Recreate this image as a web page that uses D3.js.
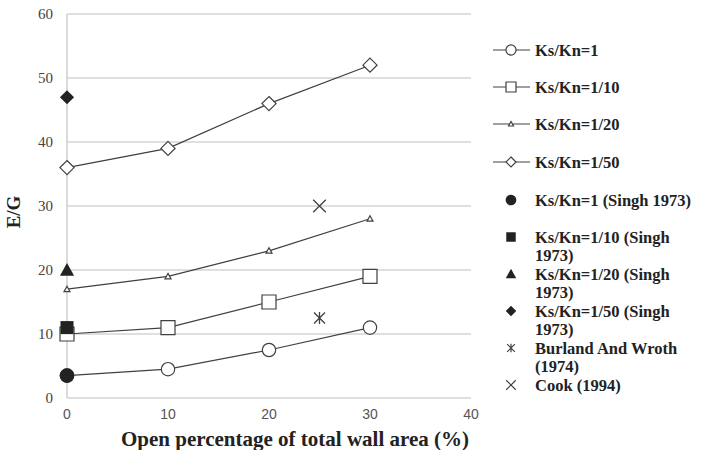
<!DOCTYPE html>
<html>
<head>
<meta charset="utf-8">
<script src="https://cdn.jsdelivr.net/npm/d3@7"></script>
<style>
  body { margin: 0; background: #fff; }
  svg { display: block; }
</style>
</head>
<body>
<svg></svg>
<script>
// open percentage of wall area
const openPct = [0, 10, 20, 30];
const ks1 = [3.5, 4.5, 7.5, 11];
const ks10 = [10, 11, 15, 19];
const ks20 = [17, 19, 23, 28];
const ks50 = [36, 39, 46, 52];

// single points from literature
const singh = [
    {x: 0, y: 3.5, shape: 'circle'},
    {x: 0, y: 11, shape: 'square'},
    {x: 0, y: 20, shape: 'triangle'},
    {x: 0, y: 47, shape: 'diamond'}
];
const burland = [{x: 25, y: 12.5}];
const cook = [{x: 25, y: 30}];

const xTicks = [0, 10, 20, 30, 40];
const yTicks = [0, 10, 20, 30, 40, 50, 60];

const legendLabels = [
    ['Ks/Kn=1'],
    ['Ks/Kn=1/10'],
    ['Ks/Kn=1/20'],
    ['Ks/Kn=1/50'],
    ['Ks/Kn=1 (Singh 1973)'],
    ['Ks/Kn=1/10 (Singh', '1973)'],
    ['Ks/Kn=1/20 (Singh', '1973)'],
    ['Ks/Kn=1/50 (Singh', '1973)'],
    ['Burland And Wroth', '(1974)'],
    ['Cook (1994)']
];

var width = 702, height = 450;
var margin = {top: 14, left: 67, right: 231, bottom: 52};

const xScale = d3.scaleLinear()
    .domain([0, 40])
    .range([margin.left, width - margin.right]);

const yScale = d3.scaleLinear()
    .domain([0, 60])
    .range([height - margin.bottom, margin.top]);

const ink = '#404040';

// custom symbols
const asterisk = {
    draw(ctx, size) {
        const r = Math.sqrt(size) / 2;
        ctx.moveTo(-r, -r); ctx.lineTo(r, r);
        ctx.moveTo(-r, r); ctx.lineTo(r, -r);
        ctx.moveTo(0, -r * 1.1); ctx.lineTo(0, r * 1.1);
    }
};
const cross = {
    draw(ctx, size) {
        const r = Math.sqrt(size) / 2;
        ctx.moveTo(-r, -r); ctx.lineTo(r, r);
        ctx.moveTo(-r, r); ctx.lineTo(r, -r);
    }
};
const diamond = {
    draw(ctx, size) {
        const r = Math.sqrt(size) / 2;
        ctx.moveTo(0, -r); ctx.lineTo(r, 0); ctx.lineTo(0, r); ctx.lineTo(-r, 0); ctx.closePath();
    }
};
const square = {
    draw(ctx, size) {
        const r = Math.sqrt(size) / 2;
        ctx.rect(-r, -r, 2 * r, 2 * r);
    }
};
const triangle = {
    draw(ctx, size) {
        const r = Math.sqrt(size) / 2;
        ctx.moveTo(0, -r); ctx.lineTo(r, r * 0.8); ctx.lineTo(-r, r * 0.8); ctx.closePath();
    }
};
const shapes = {circle: d3.symbolCircle, square: square, triangle: triangle, diamond: diamond};

const svg = d3.select('svg')
    .attr('width', width)
    .attr('height', height);

// gridlines
svg.append('g')
    .selectAll('line')
    .data(yTicks)
    .enter()
    .append('line')
    .attr('x1', xScale(0))
    .attr('x2', xScale(40))
    .attr('y1', d => yScale(d))
    .attr('y2', d => yScale(d))
    .attr('stroke', '#d4d4d4')
    .attr('stroke-width', 1.3);

// y axis line
svg.append('line')
    .attr('x1', xScale(0)).attr('x2', xScale(0))
    .attr('y1', yScale(0)).attr('y2', yScale(60))
    .attr('stroke', '#c8c8c8')
    .attr('stroke-width', 1.3);

// y tick labels
svg.append('g')
    .selectAll('text')
    .data(yTicks)
    .enter()
    .append('text')
    .attr('x', xScale(0) - 14)
    .attr('y', d => yScale(d) + 5)
    .attr('text-anchor', 'end')
    .attr('font-family', 'Liberation Serif, serif')
    .attr('font-size', 15)
    .attr('fill', '#444')
    .text(d => d);

// x tick labels
svg.append('g')
    .selectAll('text')
    .data(xTicks)
    .enter()
    .append('text')
    .attr('x', d => xScale(d))
    .attr('y', yScale(0) + 21)
    .attr('text-anchor', 'middle')
    .attr('font-family', 'Liberation Sans, sans-serif')
    .attr('font-size', 14)
    .attr('fill', '#555')
    .text(d => d);

// axis titles
svg.append('text')
    .attr('transform', 'translate(20,' + 212 + ') rotate(-90)')
    .attr('text-anchor', 'middle')
    .attr('font-family', 'Liberation Serif, serif')
    .attr('font-weight', 'bold')
    .attr('font-size', 19)
    .attr('fill', '#222')
    .text('E/G');

svg.append('text')
    .attr('x', 295)
    .attr('y', 446)
    .attr('text-anchor', 'middle')
    .attr('font-family', 'Liberation Serif, serif')
    .attr('font-weight', 'bold')
    .attr('font-size', 21)
    .attr('fill', '#222')
    .text('Open percentage of total wall area (%)');

const series = [
    {values: ks1, shape: d3.symbolCircle, size: 140},
    {values: ks10, shape: square, size: 196},
    {values: ks20, shape: triangle, size: 36},
    {values: ks50, shape: diamond, size: 200}
];

const line = d3.line()
    .x((d, i) => xScale(openPct[i]))
    .y(d => yScale(d));

series.forEach(function(s) {
    svg.append('path')
        .attr('d', line(s.values))
        .attr('fill', 'none')
        .attr('stroke', ink)
        .attr('stroke-width', 1.2);

    svg.append('g')
        .selectAll('path')
        .data(s.values)
        .enter()
        .append('path')
        .attr('transform', (d, i) => 'translate(' + xScale(openPct[i]) + ',' + yScale(d) + ')')
        .attr('d', d3.symbol().type(s.shape).size(s.size))
        .attr('fill', 'white')
        .attr('stroke', ink)
        .attr('stroke-width', 1.2);
});

// Singh 1973 points
const singhSize = {circle: 170, square: 170, triangle: 200, diamond: 200};
svg.append('g')
    .selectAll('path')
    .data(singh)
    .enter()
    .append('path')
    .attr('transform', d => 'translate(' + xScale(d.x) + ',' + yScale(d.y) + ')')
    .attr('d', d => d3.symbol().type(shapes[d.shape]).size(singhSize[d.shape])())
    .attr('fill', '#222');

// Burland and Wroth
svg.append('g')
    .selectAll('path')
    .data(burland)
    .enter()
    .append('path')
    .attr('transform', d => 'translate(' + xScale(d.x) + ',' + yScale(d.y) + ')')
    .attr('d', d3.symbol().type(asterisk).size(120))
    .attr('fill', 'none')
    .attr('stroke', ink)
    .attr('stroke-width', 1.3);

// Cook
svg.append('g')
    .selectAll('path')
    .data(cook)
    .enter()
    .append('path')
    .attr('transform', d => 'translate(' + xScale(d.x) + ',' + yScale(d.y) + ')')
    .attr('d', d3.symbol().type(cross).size(160))
    .attr('fill', 'none')
    .attr('stroke', ink)
    .attr('stroke-width', 1.3);

// legend
const legendY = [50, 87, 124, 162, 200, 237, 274, 311, 348, 385];
const legendMarks = [
    {shape: d3.symbolCircle, size: 80, line: true, filled: false},
    {shape: square, size: 100, line: true, filled: false},
    {shape: triangle, size: 25, line: true, filled: false},
    {shape: diamond, size: 100, line: true, filled: false},
    {shape: d3.symbolCircle, size: 90, filled: true},
    {shape: square, size: 90, filled: true},
    {shape: triangle, size: 110, filled: true},
    {shape: diamond, size: 110, filled: true},
    {shape: asterisk, size: 60, stroke: true},
    {shape: cross, size: 90, stroke: true}
];

const legend = svg.append('g')
    .selectAll('g')
    .data(legendLabels)
    .enter()
    .append('g')
    .attr('transform', (d, i) => 'translate(0,' + legendY[i] + ')');

legend.each(function(d, i) {
    const g = d3.select(this);
    const m = legendMarks[i];
    if (m.line) {
        g.append('line')
            .attr('x1', 493).attr('x2', 530)
            .attr('stroke', ink)
            .attr('stroke-width', 1.2);
    }
    g.append('path')
        .attr('transform', 'translate(511,0)')
        .attr('d', d3.symbol().type(m.shape).size(m.size))
        .attr('fill', m.filled ? '#222' : (m.stroke ? 'none' : 'white'))
        .attr('stroke', m.filled ? 'none' : ink)
        .attr('stroke-width', 1.2);

    const t = g.append('text')
        .attr('x', 535)
        .attr('y', 6)
        .attr('font-family', 'Liberation Serif, serif')
        .attr('font-weight', 'bold')
        .attr('font-size', 16.5)
        .attr('fill', '#222');
    d.forEach(function(s, j) {
        t.append('tspan')
            .attr('x', 535)
            .attr('dy', j === 0 ? 0 : 18.3)
            .text(s);
    });
});
</script>
</body>
</html>
